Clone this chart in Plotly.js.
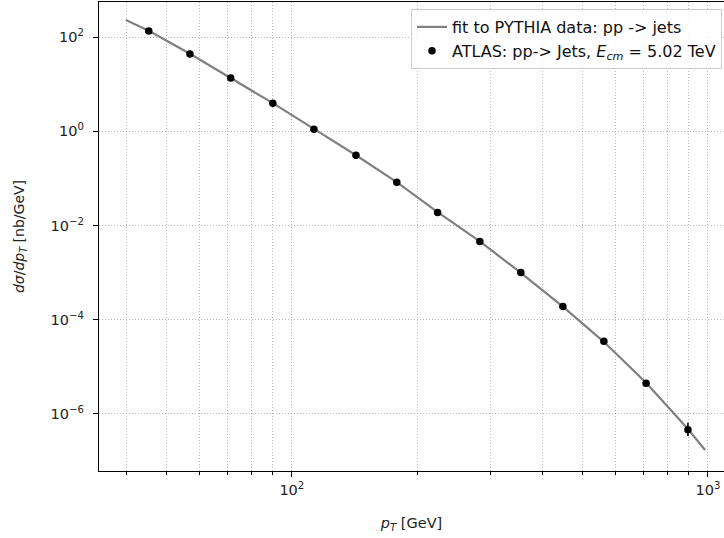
<!DOCTYPE html>
<html>
<head>
<meta charset="utf-8">
<script src="https://cdn.plot.ly/plotly-3.0.1.min.js"></script>
<style>html,body{margin:0;padding:0;background:#fff}#chart{width:724px;height:538px}</style>
</head>
<body>
<div id="chart"></div>
<script>
// ATLAS data points
var ptData = [45.3, 56.9, 71.3, 90, 113, 142.6, 178.7, 224, 283, 355, 448, 562, 710, 895];
var xsData = [134, 43.5, 13.5, 3.93, 1.1, 0.31, 0.083, 0.0189, 0.0046, 0.001, 1.9e-4, 3.5e-5, 4.5e-6, 4.6e-7];
var errPlus = [0, 0, 0, 0, 0, 0, 0, 0, 0, 0, 0, 0, 0.3e-6, 1.9e-7];
var errMinus = [0, 0, 0, 0, 0, 0, 0, 0, 0, 0, 0, 0, 0.3e-6, 1.2e-7];

// fit curve
var ptFit = [39.9, 45.3, 56.9, 71.3, 90, 113, 142.6, 178.7, 224, 283, 355, 448, 562, 710, 895, 984];
var xsFit = [229, 136, 44, 13.6, 3.95, 1.12, 0.31, 0.083, 0.0192, 0.0046, 0.00099, 1.9e-4, 3.4e-5, 4.6e-6, 4.8e-7, 1.72e-7];

// ticks
var xMajorVals = [100, 1000];
var xMajorText = ['10<sup>2</sup>', '10<sup>3</sup>'];
var xMinorVals = [40, 50, 60, 70, 80, 90, 200, 300, 400, 500, 600, 700, 800, 900];
var yVals = [1e-6, 1e-4, 1e-2, 1, 100];
var yText = ['10<sup>\u22126</sup>', '10<sup>\u22124</sup>', '10<sup>\u22122</sup>', '10<sup>0</sup>', '10<sup>2</sup>'];

var traces = [
  {
    x: ptFit, y: xsFit, type: 'scatter', mode: 'lines',
    name: 'fit to PYTHIA data: pp -> jets',
    line: {color: '#808080', width: 2.2}
  },
  {
    x: ptData, y: xsData, type: 'scatter', mode: 'markers',
    name: 'ATLAS: pp-> Jets, <i>E<sub>cm</sub></i> = 5.02 TeV',
    marker: {color: '#000', size: 7.5},
    error_y: {type: 'data', symmetric: false, array: errPlus, arrayminus: errMinus, color: '#000', thickness: 1.6, width: 0}
  }
];

var tf = {family: 'DejaVu Sans', size: 14.5, color: '#222'};
var grid = {gridcolor: '#b0b0b0', griddash: '1px,2px', gridwidth: 0.9};
var layout = {
  width: 724, height: 538,
  margin: {l: 99, r: 0, t: 2, b: 67},
  paper_bgcolor: '#fff', plot_bgcolor: '#fff',
  font: tf,
  showlegend: true,
  legend: {
    x: 1 - 2/625, xanchor: 'right', y: 1 - 7/469, yanchor: 'top',
    bgcolor: 'rgba(255,255,255,0.85)', bordercolor: '#cccccc', borderwidth: 1,
    font: {family: 'DejaVu Sans', size: 16, color: '#111'}
  },
  xaxis: Object.assign({
    type: 'log', range: [Math.log10(34.4), 3.0385],
    tickmode: 'array', tickvals: xMajorVals, ticktext: xMajorText,
    ticks: 'outside', ticklen: 5, tickcolor: '#000', tickwidth: 1,
    showline: true, linecolor: '#000', linewidth: 1.2, mirror: true,
    showgrid: true, zeroline: false,
    minor: Object.assign({tickmode: 'array', tickvals: xMinorVals, ticks: 'outside', ticklen: 3, tickcolor: '#000', showgrid: true}, grid),
    title: {text: '<i>p<sub>T</sub></i> [GeV]', font: tf, standoff: 21},
    tickfont: tf
  }, grid),
  yaxis: Object.assign({
    type: 'log', range: [-7.21, 2.743],
    tickmode: 'array', tickvals: yVals, ticktext: yText,
    ticks: 'outside', ticklen: 5, tickcolor: '#000', tickwidth: 1,
    ticklabelstandoff: 6,
    showline: true, linecolor: '#000', linewidth: 1.2, mirror: false,
    showgrid: true, zeroline: false,
    title: {text: '<i>dσ</i>/<i>dp<sub>T</sub></i> [nb/GeV]', font: {family: 'DejaVu Sans', size: 14, color: '#222'}, standoff: 22},
    tickfont: tf
  }, grid)
};

Plotly.newPlot('chart', traces, layout, {displayModeBar: false, staticPlot: true});
</script>
</body>
</html>
